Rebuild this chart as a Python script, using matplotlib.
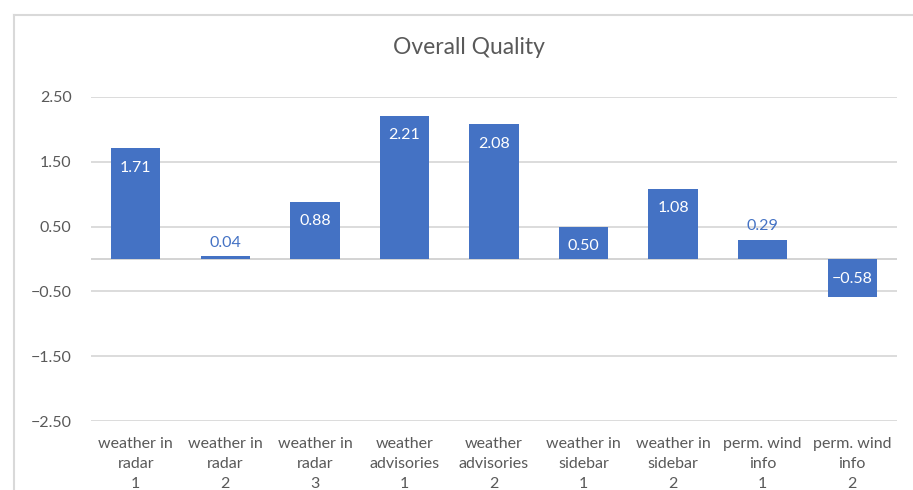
import matplotlib
matplotlib.use("Agg")
import matplotlib.pyplot as plt
from matplotlib.lines import Line2D

plt.rcParams['font.family'] = ['Lato', 'DejaVu Sans']
plt.rcParams['axes.unicode_minus'] = True

categories = ["weather in\nradar\n1", "weather in\nradar\n2", "weather in\nradar\n3",
              "weather\nadvisories\n1", "weather\nadvisories\n2", "weather in\nsidebar\n1",
              "weather in\nsidebar\n2", "perm. wind\ninfo\n1", "perm. wind\ninfo\n2"]
scores = [1.71, 0.04, 0.88, 2.21, 2.08, 0.50, 1.08, 0.29, -0.58]
yticks = [-2.5, -1.5, -0.5, 0.5, 1.5, 2.5]

bar_color = '#4472C4'
text_color = '#595959'
grid_color = '#D9D9D9'

fig = plt.figure(figsize=(9.13, 4.9), dpi=100)
ax = fig.add_axes([91 / 913, 69 / 490, 806 / 913, 324 / 490])

x = list(range(len(categories)))
ax.bar(x, scores, width=0.55, color=bar_color, zorder=3)

ax.set_xlim(-0.5, len(categories) - 0.5)
ax.set_ylim(-2.5, 2.5)
ax.set_yticks(yticks)
ax.set_yticklabels([f"{v:.2f}".replace('-', '\u2212') for v in yticks])
ax.set_xticks(x)
ax.set_xticklabels(categories, linespacing=1.55)
ax.tick_params(axis='y', length=0, pad=14, labelsize=11.5, labelcolor=text_color)
ax.tick_params(axis='x', length=0, pad=11.5, labelsize=11.5, labelcolor=text_color)

ax.grid(axis='y', color=grid_color, linewidth=1.3, zorder=0)
ax.axhline(0, color='#D0D0D0', linewidth=1.3, zorder=2)
for s in ax.spines.values():
    s.set_visible(False)

# value labels: inside the bar end when it fits, above it otherwise
for xi, v in zip(x, scores):
    txt = f"{v:.2f}".replace('-', '\u2212')
    if abs(v) >= 0.4:
        off = -14 if v > 0 else 13
        ax.annotate(txt, (xi, v), xytext=(0, off), textcoords='offset points',
                    ha='center', va='center', color='white', fontsize=11.5, zorder=4)
    else:
        ax.annotate(txt, (xi, v), xytext=(0, 10), textcoords='offset points',
                    ha='center', va='center', color=bar_color, fontsize=11.5, zorder=4)

fig.text(468.5 / 913, 1 - 47 / 490, "Overall Quality", ha='center', va='center',
         fontsize=16.5, color=text_color)

# chart area border
fx, fy = 14 / 913, 1 - 15 / 490
fig.add_artist(Line2D([fx, fx], [0, fy], transform=fig.transFigure, color=grid_color, linewidth=1.5))
fig.add_artist(Line2D([fx, 1.0], [fy, fy], transform=fig.transFigure, color=grid_color, linewidth=1.5))

fig.savefig("out.png", dpi=100)
